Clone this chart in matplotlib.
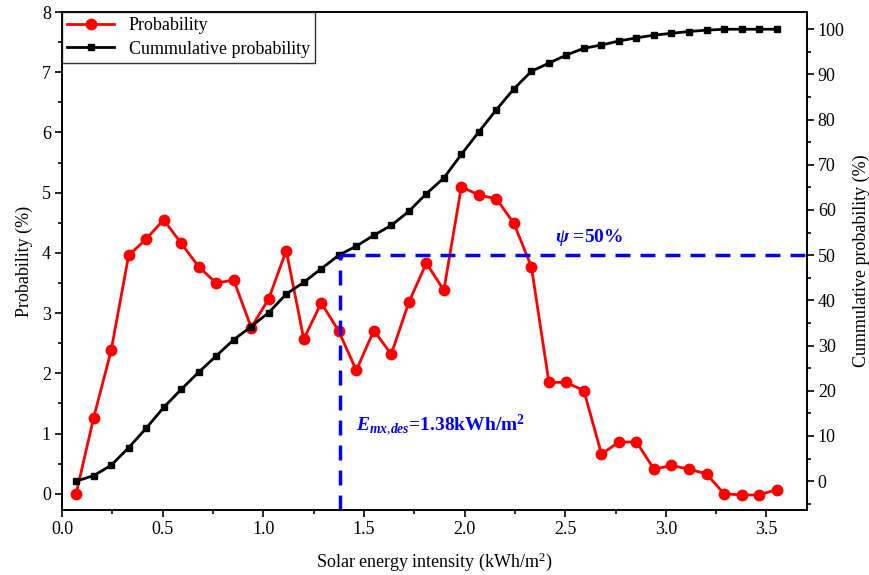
import matplotlib
matplotlib.use("Agg")
import matplotlib.pyplot as plt
from matplotlib.ticker import MultipleLocator

plt.rcParams['font.family'] = ['Liberation Serif', 'DejaVu Serif']
plt.rcParams['mathtext.fontset'] = 'custom'
plt.rcParams['mathtext.rm'] = 'Liberation Serif'
plt.rcParams['mathtext.it'] = 'Liberation Serif:italic:bold'
plt.rcParams['mathtext.bf'] = 'Liberation Serif:bold'

# energy bins (kWh/m2)
energy = [0.07 + 0.087 * i for i in range(41)]

# probability of each bin (%)
prob = [0.00, 1.26, 2.38, 3.96, 4.23, 4.55, 4.16, 3.77, 3.50, 3.55,
        2.76, 3.24, 4.04, 2.57, 3.17, 2.70, 2.05, 2.71, 2.32, 3.18,
        3.83, 3.38, 5.10, 4.96, 4.90, 4.49, 3.77, 1.85, 1.85, 1.71,
        0.66, 0.86, 0.86, 0.41, 0.47, 0.41, 0.33, 0.00, -0.02, -0.02,
        0.07]

# cumulative probability (%)
cum = [0.0, 1.2, 3.5, 7.4, 11.7, 16.3, 20.3, 24.1, 27.7, 31.3,
       34.2, 37.3, 41.4, 44.0, 47.0, 50.0, 52.0, 54.4, 56.6, 59.7,
       63.6, 67.1, 72.3, 77.3, 82.2, 86.8, 90.7, 92.5, 94.3, 95.8,
       96.5, 97.4, 98.1, 98.7, 99.1, 99.5, 99.8, 100.0, 100.0, 100.0,
       100.0]

e_des = 1.38
psi = 50

fig = plt.figure(figsize=(8.7, 5.75), dpi=100)
ax1 = fig.add_axes([0.0713, 0.113, 0.856, 0.866])
ax2 = ax1.twinx()

l1, = ax1.plot(energy, prob, '-o', color='red', lw=2, ms=7.5, label='Probability')
l2, = ax2.plot(energy, cum, '-s', color='black', lw=2, ms=5, label='Cummulative probability')

# design lines
dash = (0, (4.3, 2.9))
ax2.plot([e_des, 3.7], [psi, psi], color='blue', lw=2.5, linestyle=dash)
ax2.plot([e_des, e_des], [-6.4, psi], color='blue', lw=2.5, linestyle=dash)

ax1.set_xlim(0, 3.7)
ax1.set_ylim(-0.27, 8)
ax2.set_ylim(-6.4, 103.8)

ax1.xaxis.set_major_locator(MultipleLocator(0.5))
ax1.xaxis.set_minor_locator(MultipleLocator(0.25))
ax1.yaxis.set_major_locator(MultipleLocator(1))
ax1.yaxis.set_minor_locator(MultipleLocator(0.5))
ax2.yaxis.set_major_locator(MultipleLocator(10))
ax2.yaxis.set_minor_locator(MultipleLocator(5))
ax1.set_xticks([0, 0.5, 1.0, 1.5, 2.0, 2.5, 3.0, 3.5])
ax1.set_xticklabels(['0.0', '0.5', '1.0', '1.5', '2.0', '2.5', '3.0', '3.5'])

for a in (ax1, ax2):
    a.tick_params(which='major', direction='out', length=5, width=1.2,
                  labelsize=13, pad=3)
    a.tick_params(which='minor', direction='out', length=3, width=1.2)
    for s in a.spines.values():
        s.set_linewidth(1.2)

ax1.set_xlabel('Solar energy intensity (kWh/m$^2$)', fontsize=13, labelpad=9)
ax1.set_ylabel('Probability (%)', fontsize=13, labelpad=6)
ax2.set_ylabel('Cummulative probability (%)', fontsize=13, labelpad=6)

ax1.text(2.45, 4.18, r'$\psi$ =50%', color='blue', fontsize=14, fontweight='bold')
ax1.text(1.46, 1.05, r'$E_{mx{,}des}$=1.38kWh/m$^\mathbf{2}$', color='blue',
         fontsize=14, fontweight='bold')

leg = ax2.legend(handles=[l1, l2], loc='upper left', fontsize=13, fancybox=False,
                 edgecolor='black', borderaxespad=0, borderpad=0.3,
                 handlelength=2.6, labelspacing=0.35, handletextpad=0.8)
leg.get_frame().set_linewidth(1.0)

fig.savefig('out.png', dpi=100)
